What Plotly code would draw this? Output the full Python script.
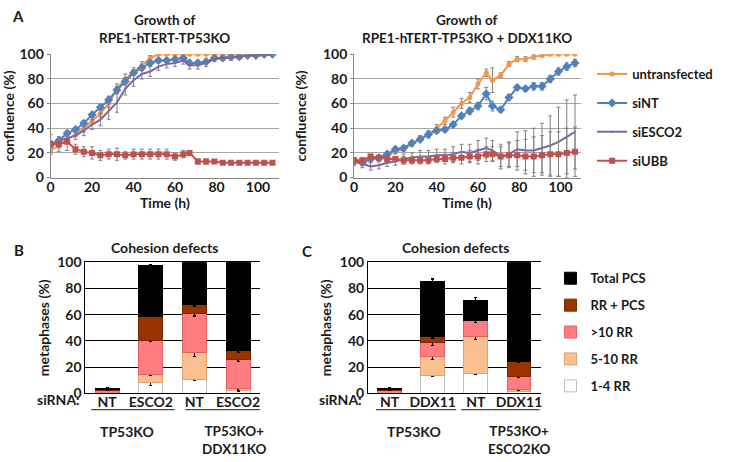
import plotly.graph_objects as go

W, H = 730, 462

# growth curves: time (h) and confluence (%)
times = [0, 4, 8, 12, 16, 20, 24, 28, 32, 36, 40, 44, 48, 52, 56, 60, 64,
         67, 71, 75, 79, 83, 87, 91, 95, 99, 103, 107]

untr_L = [22, 26, 31, 35, 40, 46, 52, 60, 72, 80, 86, 91, 97, 100, 100, 100, 100,
          100, 100, 100, 100, 100, 100, 100, 100, 100, 100, 100]
sint_L = [27, 30, 36, 39, 44, 51, 57, 63, 71, 78, 85, 89, 93, 95, 95, 96, 97,
          93, 93, 94, 97, 97, 98, 98, 99, 99, 100, 100]
sesco_L = [27, 30, 32, 34, 38, 43, 47, 54, 61, 72, 79, 84, 86, 90, 92, 93, 95,
           91, 91, 93, 96, 97, 97, 98, 99, 99, 99, 100]
subb_L = [27, 27, 29, 23, 21, 20, 18, 19, 19, 18, 19, 19, 19, 19, 19, 17, 19,
          20, 13, 13, 13, 12, 12, 12, 12, 12, 12, 12]

untr_L_err = [2, 2, 2, 2, 3, 3, 3, 3, 4, 4, 3, 3, 2, 1, 1, 1, 1, 1, 1, 1, 1, 1, 1, 1, 1, 1, 1, 1]
sint_L_err = [2, 2, 2, 2, 2, 2, 2, 3, 3, 3, 2, 2, 2, 2, 2, 2, 2, 2, 2, 2, 2, 2, 2, 2, 1, 1, 1, 1]
sesco_L_err = [3, 3, 4, 3, 4, 4, 5, 7, 8, 5, 5, 4, 4, 3, 3, 3, 3, 3, 3, 3, 2, 2, 2, 2, 1, 1, 1, 1]
subb_L_err = [8, 6, 7, 4, 4, 5, 4, 4, 5, 3, 4, 4, 4, 4, 4, 3, 3, 2, 2, 2, 1, 1, 1, 1, 1, 1, 1, 1]

untr_R = [13, 12, 16, 15, 18, 21, 23, 27, 32, 35, 40, 46, 53, 60, 65, 76, 85,
          79, 83, 92, 96, 96, 98, 99, 100, 100, 100, 100]
sint_R = [13, 12, 15, 16, 19, 23, 24, 28, 31, 35, 38, 39, 43, 50, 54, 58, 68,
          58, 55, 65, 73, 72, 74, 74, 80, 86, 90, 93]
sesco_R = [13, 11, 9, 10, 12, 13, 15, 16, 17, 17, 18, 18, 19, 21, 20, 22, 24,
           22, 17, 19, 23, 22, 22, 24, 26, 29, 33, 37]
subb_R = [14, 14, 17, 16, 15, 15, 14, 14, 14, 14, 15, 15, 16, 16, 17, 17, 19,
          19, 17, 18, 18, 17, 17, 18, 19, 19, 20, 21]

untr_R_err = [2, 2, 2, 2, 2, 2, 2, 2, 2, 3, 3, 3, 4, 4, 4, 4, 3, 10, 2, 2, 2, 2, 2, 1, 1, 1, 1, 1]
sint_R_err = [2, 2, 2, 2, 2, 2, 2, 2, 2, 2, 2, 2, 2, 2, 3, 3, 5, 4, 2, 2, 2, 2, 3, 3, 3, 3, 3, 3]
sesco_R_err = [3, 3, 3, 3, 3, 3, 4, 4, 5, 5, 5, 5, 6, 6, 7, 8, 8, 8, 10, 10, 14, 16, 18, 20, 24, 28, 30, 30]
subb_R_err = [2, 2, 2, 2, 2, 2, 3, 3, 3, 3, 3, 4, 4, 5, 5, 6, 6, 6, 8, 10, 12, 14, 16, 16, 18, 18, 20, 20]

series_names = ["untransfected", "siNT", "siESCO2", "siUBB"]

# cohesion defects (% metaphases), segments bottom -> top
bar_x = [0, 1, 2, 3]
B_labels = ["NT", "ESCO2", "NT", "ESCO2"]
C_labels = ["NT", "DDX11", "NT", "DDX11"]
seg_names = ["1-4 RR", "5-10 RR", ">10 RR", "RR + PCS", "Total PCS"]

B_vals = [
    [0, 7.9, 10.8, 2.0],
    [0, 6.8, 20.2, 1.4],
    [2.5, 25.6, 30.0, 22.1],
    [0.5, 18.7, 6.6, 6.9],
    [0.5, 38.5, 32.4, 67.6],
]
B_err = [
    [0, 2, 1, 0.5],
    [0, 1, 3, 1],
    [0, 1, 2, 1.5],
    [0, 0.5, 1, 1],
    [1, 0.5, 0, 0],
]
C_vals = [
    [0, 13.3, 15.2, 1.7],
    [0, 14.7, 27.8, 1.3],
    [2.5, 10.6, 12.3, 9.5],
    [0.5, 4.6, 0, 11.8],
    [0.5, 42.1, 15.7, 75.7],
]
C_err = [
    [0, 0.5, 0.5, 0.3],
    [0, 2, 2, 0.5],
    [0, 2, 1, 0.5],
    [0, 1, 1, 1],
    [1, 2, 2, 0],
]

FONT = "Lato"
TXT = "#1a1a1a"
line_colors = ["#F79646", "#4F81BD", "#8064A2", "#C0504D"]
markers = [dict(symbol="circle", size=5), dict(symbol="diamond", size=7),
           dict(symbol="circle", size=1), dict(symbol="square", size=6)]
seg_colors = ["#FFFFFF", "#FAC090", "#FF7C80", "#993300", "#000000"]
seg_lines = ["#BFBFBF", "#E0A070", "#E06060", "#7A2800", "#000000"]


def px(x):
    return x / W


def py(y):
    return 1 - y / H


fig = go.Figure()

growth = [
    ("x", "y", [untr_L, sint_L, sesco_L, subb_L], [untr_L_err, sint_L_err, sesco_L_err, subb_L_err], True),
    ("x2", "y2", [untr_R, sint_R, sesco_R, subb_R], [untr_R_err, sint_R_err, sesco_R_err, subb_R_err], False),
]
for xa, ya, ys, errs, show in growth:
    for i, name in enumerate(series_names):
        fig.add_trace(go.Scatter(
            x=times, y=ys[i], name=name, mode="lines+markers",
            xaxis=xa, yaxis=ya, legend="legend", legendgroup=name, showlegend=show,
            line=dict(color=line_colors[i], width=2),
            marker=dict(color=line_colors[i], **markers[i]),
            error_y=dict(type="data", array=errs[i], visible=True,
                         color="#808080", thickness=1, width=2),
        ))

for xa, ya, vals, errs, show in [("x3", "y3", B_vals, B_err, True), ("x4", "y4", C_vals, C_err, False)]:
    for i, name in enumerate(seg_names):
        fig.add_trace(go.Bar(
            x=bar_x, y=vals[i], name=name, xaxis=xa, yaxis=ya,
            legend="legend2", legendgroup=name, showlegend=show,
            legendrank=10 - i,
            marker=dict(color=seg_colors[i], line=dict(color=seg_lines[i], width=1)),
            error_y=dict(type="data", array=errs[i], visible=True,
                         color="#000000", thickness=1.2, width=1.5),
        ))

tickfont = dict(family=FONT, size=14, color=TXT, weight="bold")
titlefont = dict(family=FONT, size=14, color=TXT, weight="bold")

growth_x = dict(range=[0, 110], tickvals=[0, 20, 40, 60, 80, 100], ticks="",
                showline=True, linecolor="#868686",
                showgrid=False, zeroline=False, tickfont=tickfont, ticklabelstandoff=-3)
growth_y = dict(range=[0, 100], tickvals=[0, 20, 40, 60, 80, 100], ticks="outside",
                ticklen=3, tickcolor="#868686", showline=True, linecolor="#868686",
                showgrid=True, gridcolor="#A6A6A6", gridwidth=1, zeroline=False,
                tickfont=tickfont)

bar_x_ax = dict(range=[-0.5, 3.5], tickvals=bar_x, ticks="", showline=True,
                linecolor="#000000", mirror=True, showgrid=False, zeroline=False,
                tickfont=tickfont, ticklabelstandoff=-4)
bar_y_ax = dict(range=[0, 100], tickvals=[0, 20, 40, 60, 80, 100], ticks="",
                showline=True, linecolor="#000000", showgrid=True, gridcolor="#000000",
                gridwidth=1, zeroline=False, tickfont=tickfont,
                title=dict(text="metaphases (%)", font=titlefont, standoff=4))

fig.update_layout(
    width=W, height=H, margin=dict(l=0, r=0, t=0, b=0),
    paper_bgcolor="white", plot_bgcolor="white",
    font=dict(family=FONT, size=14, color=TXT, weight="bold"),
    barmode="stack", bargap=0.45, showlegend=True,
    xaxis=dict(domain=[px(47), px(277)], anchor="y", **growth_x),
    yaxis=dict(domain=[py(175), py(47)], anchor="x",
               title=dict(text="confluence (%)", font=titlefont, standoff=4), **growth_y),
    xaxis2=dict(domain=[px(353), px(582)], anchor="y2", **growth_x),
    yaxis2=dict(domain=[py(175), py(47)], anchor="x2",
                title=dict(text="confluence (%)", font=titlefont, standoff=13), **growth_y),
    xaxis3=dict(domain=[px(82), px(258)], anchor="y3", ticktext=B_labels, **bar_x_ax),
    yaxis3=dict(domain=[py(399), py(263)], anchor="x3", **bar_y_ax),
    xaxis4=dict(domain=[px(367), px(541)], anchor="y4", ticktext=C_labels, **bar_x_ax),
    yaxis4=dict(domain=[py(399), py(263)], anchor="x4", **bar_y_ax),
    legend=dict(x=px(593), y=py(52), xanchor="left", yanchor="top",
                font=dict(family=FONT, size=13, color=TXT, weight="bold"),
                traceorder="grouped", tracegroupgap=9, bgcolor="rgba(0,0,0,0)"),
    legend2=dict(x=px(551), y=py(264), xanchor="left", yanchor="top",
                 font=dict(family=FONT, size=13, color=TXT, weight="bold"),
                 traceorder="grouped", tracegroupgap=7, bgcolor="rgba(0,0,0,0)"),
)

ann = []


def add_text(x, y, text, size=14, xanchor="center"):
    ann.append(dict(x=px(x), y=py(y), xref="paper", yref="paper", text=text,
                    showarrow=False, xanchor=xanchor, yanchor="middle",
                    font=dict(family=FONT, size=size, color=TXT, weight="bold")))


add_text(6, 7, "A", 15, "left")
add_text(8, 250, "B", 15, "left")
add_text(298, 251, "C", 15, "left")
add_text(162, 11, "Growth of", 13.5)
add_text(162, 30, "RPE1-hTERT-TP53KO", 13.5)
add_text(467, 11, "Growth of", 13.5)
add_text(467, 30, "RPE1-hTERT-TP53KO + DDX11KO", 13.5)
add_text(162, 201, "Time (h)")
add_text(467, 201, "Time (h)")
add_text(162, 248, "Cohesion defects")
add_text(455, 248, "Cohesion defects")
add_text(79, 405, "siRNA:", 14, "right")
add_text(363, 405, "siRNA:", 14, "right")
add_text(124, 439, "TP53KO")
add_text(232, 447, "TP53KO+<br>DDX11KO", 13.5)
add_text(413, 439, "TP53KO")
add_text(519, 447, "TP53KO+<br>ESCO2KO", 13.5)

shapes = []
for x0, x1 in [(88, 172), (183, 258), (375, 456), (461, 540)]:
    shapes.append(dict(type="line", xref="paper", yref="paper",
                       x0=px(x0), x1=px(x1), y0=py(416), y1=py(416),
                       line=dict(color="#1a1a1a", width=1)))

fig.update_layout(annotations=ann, shapes=shapes)

fig.write_html("out.html", config={"displayModeBar": False},
               post_script="document.body.style.margin='0';")
